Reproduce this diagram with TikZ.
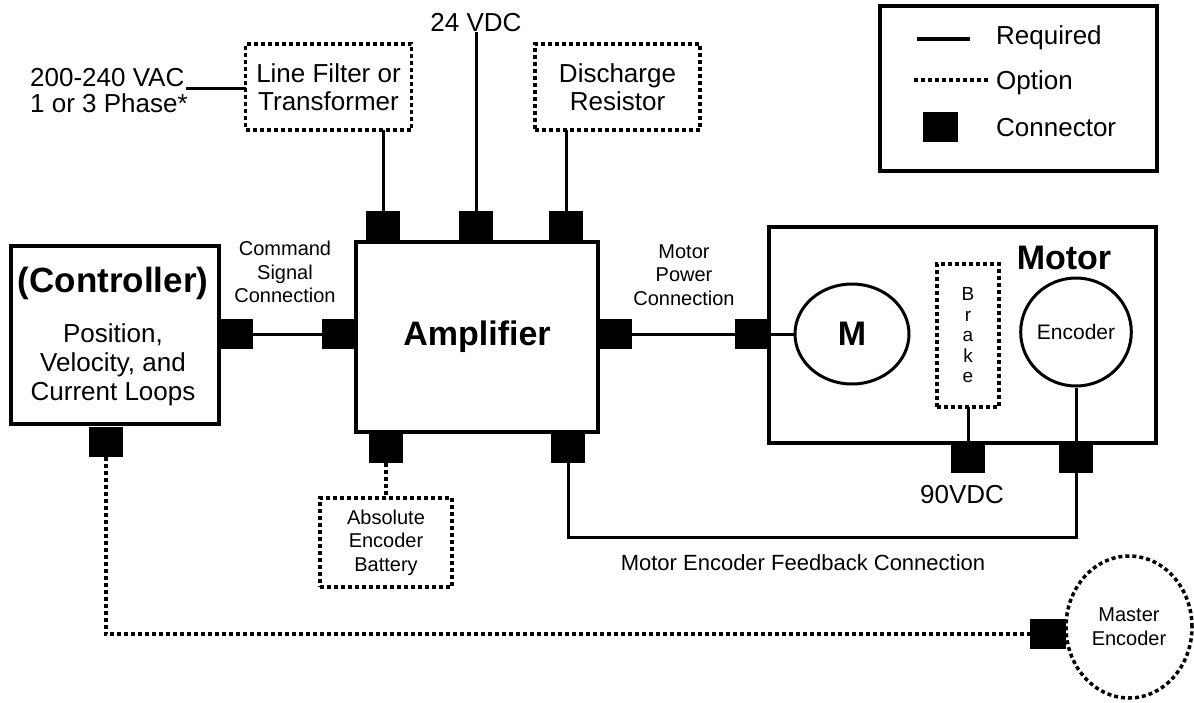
\documentclass[tikz,border=0pt]{standalone}
\usepackage{fontspec}
\setmainfont{Liberation Sans}
\usetikzlibrary{shapes.geometric}
\newcommand\fsz[2]{\fontsize{#1}{#2}\selectfont}
\begin{document}
\begin{tikzpicture}[x=1pt,y=-1pt,
  blk/.style={draw, line width=3.5pt, inner sep=0pt, outer sep=0pt, align=center},
  opt/.style={draw, line width=3.5pt, dash pattern=on 4pt off 3pt, inner sep=0pt, outer sep=0pt, align=center},
  conn/.style={fill=black, minimum width=34pt, minimum height=30pt, inner sep=0pt, outer sep=0pt},
  wire/.style={line width=3pt},
  optwire/.style={line width=4pt, dash pattern=on 4pt off 3pt},
  lbl/.style={inner sep=0pt, align=center},
  big/.style={font=\fsz{26}{26}},
  boxtext/.style={font=\fsz{26}{28}},
  small/.style={font=\fsz{20}{23.5}}]
\fill[white] (0,0) rectangle (1194,702);
\useasboundingbox (0,0) rectangle (1194,702);

% legend
\node[blk, minimum width=277pt, minimum height=165pt] (legend) at (1018.5,88.5) {};
\coordinate (lreqA) at (917,39); \coordinate (lreqB) at (970,39);
\draw[wire, line width=4.5pt] (lreqA) -- (lreqB);
\node[lbl, big, anchor=west] (lreq) at (996,38) {Required};
\coordinate (loptA) at (914,80); \coordinate (loptB) at (990,80);
\draw[optwire] (loptA) -- (loptB);
\node[lbl, big, anchor=west] (lopt) at (996,83) {Option};
\node[conn, minimum width=35pt] (lconn) at (940.5,127) {};
\node[lbl, big, anchor=west] (lcon) at (996,128) {Connector};

% amplifier
\node[blk, minimum width=242pt, minimum height=190pt, font=\bfseries\fsz{34}{34}] (amp) at (477,337) {Amplifier};

% top row
\node[lbl, big, align=left, anchor=west] (ac) at (30,91) {200-240 VAC\\1 or 3 Phase*};
\node[opt, minimum width=166pt, minimum height=86pt, boxtext] (filter) at (328.5,87) {Line Filter or\\Transformer};
\node[lbl, big] (vdc) at (476,23) {24 VDC};
\node[opt, minimum width=165pt, minimum height=86pt, boxtext] (disch) at (617.5,87) {Discharge\\Resistor};
\node[conn] (t1) at (383,226) {};
\node[conn] (t2) at (476,226) {};
\node[conn] (t3) at (566,226) {};
\coordinate (acw) at (186,88);
\draw[wire] (acw) -- (acw -| filter.west);
\draw[wire] (t1.north) -- (t1.north |- filter.south);
\draw[wire] (t2.north) -- (t2.north |- vdc.south);
\draw[wire] (t3.north) -- (t3.north |- disch.south);

% controller
\node[blk, minimum width=208pt, minimum height=178pt] (ctrl) at (115,335) {};
\node[lbl, font=\bfseries\fsz{35}{35}] (ctrltitle) at (113,283) {(Controller)};
\node[lbl, font=\fsz{26}{29}] (ctrlbody) at (113,365) {Position,\\Velocity, and\\Current Loops};
\node[conn] (cR) at (236,334) {};
\node[conn] (aL) at (339,334) {};
\node[conn] (cB) at (105.5,441.5) {};
\draw[wire] (cR.east) -- (aL.west);
\node[lbl, small] (cmd) at (285,272) {Command\\Signal\\Connection};

% amp bottom
\node[conn, minimum height=31pt] (aB1) at (386,447.5) {};
\node[conn, minimum height=31pt] (aB2) at (568,447.5) {};
\node[opt, minimum width=132pt, minimum height=89pt, small] (batt) at (386,542.5) {Absolute\\Encoder\\Battery};
\draw[optwire] (aB1.south) -- (batt.north);

% motor
\node[blk, minimum width=387pt, minimum height=216pt] (motor) at (962.5,335) {};
\node[lbl, font=\bfseries\fsz{34}{34}] (motorlbl) at (1064,258) {Motor};
\node[draw, ellipse, line width=3pt, minimum width=114pt, minimum height=100pt, inner sep=0pt, font=\bfseries\fsz{34}{34}] (M) at (852,334) {M};
\node[opt, minimum width=62pt, minimum height=143pt, font=\fsz{19}{20.5}] (brake) at (968,335.5) {B\\r\\a\\k\\e};
\node[draw, ellipse, line width=3pt, minimum width=104pt, minimum height=108pt, inner sep=0pt, font=\fsz{21}{21}] (enc) at (1076,332) {Encoder};
\node[conn] (aR) at (615,334) {};
\node[conn] (mL) at (751.5,334) {};
\draw[wire] (aR.east) -- (mL.west);
\draw[wire] (mL.east) -- (M.west);
\node[lbl, small] (mpc) at (684,275) {Motor\\Power\\Connection};
\node[conn] (bC) at (968,458) {};
\node[conn] (eC) at (1076,458) {};
\draw[wire] (brake.south) -- (bC.north);
\draw[wire] (enc.south) -- (eC.north);
\node[lbl, big] (v90) at (962,495) {90VDC};

% feedback
\coordinate (fb) at (0,537);
\draw[wire] (eC.south) -- (eC.south |- fb) -- (aB2.south |- fb) -- (aB2.south);
\node[lbl, font=\fsz{22}{22}] (fblbl) at (803,563) {Motor Encoder Feedback Connection};

% master encoder
\node[draw, ellipse, line width=3.5pt, dash pattern=on 4pt off 3pt, minimum width=126pt, minimum height=142pt, inner sep=0pt, font=\fsz{20}{24}, align=center] (master) at (1129,627) {Master\\Encoder};
\node[conn, minimum width=36pt] (mC) at (1048,634) {};
\draw[optwire] (cB.south) -- (cB.south |- mC.west) -- (mC.west);
\end{tikzpicture}
\end{document}
